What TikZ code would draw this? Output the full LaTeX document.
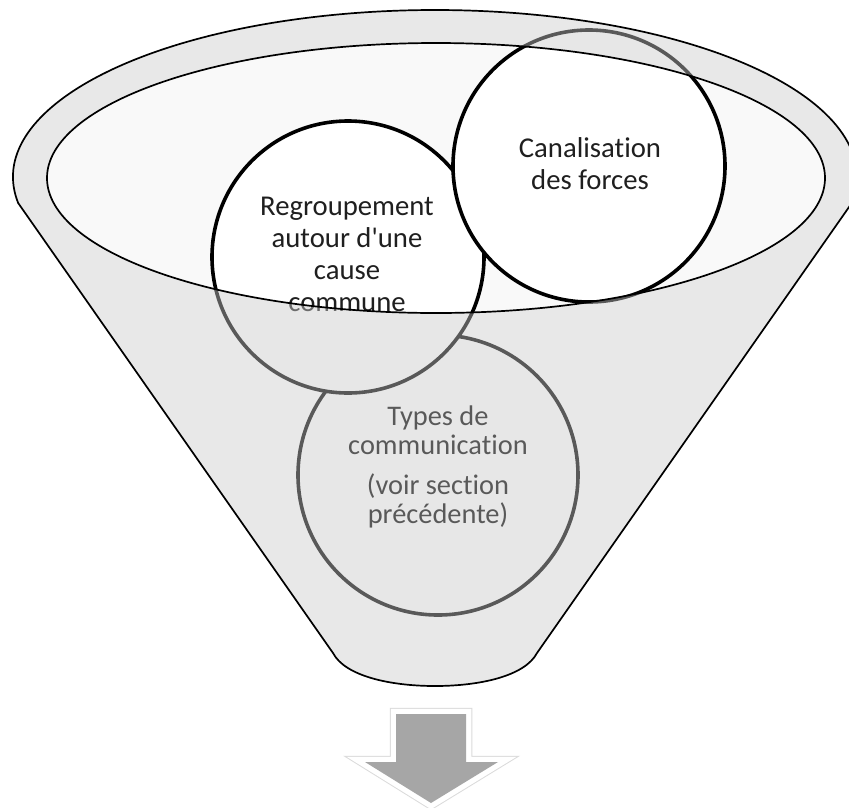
\documentclass[tikz,border=0pt]{standalone}
\usepackage{fontspec}
\newfontfamily\carl{Carlito}[Ligatures=NoCommon]
\definecolor{rimgray}{HTML}{CBCBCB}
\definecolor{mouthfill}{HTML}{F9F9F9}
\definecolor{arrowgray}{HTML}{A6A6A6}
\begin{document}
\begin{tikzpicture}[x=1pt,y=-1pt,
  bubble/.style={circle, draw=black, line width=3.6pt, fill=white, inner sep=0pt},
  bubbletext/.style={align=center, inner sep=0pt, text=black!88,
    font=\carl\fontsize{28.7}{32}\selectfont},
  funnelline/.style={draw=black, line width=1.7pt},
  bigarrow/.style={line join=miter}
]
\useasboundingbox (0,0) rectangle (849,807);
\clip (0,0) rectangle (849,807);

% light mouth of the funnel
\fill[mouthfill] (436,178) ellipse[x radius=389, y radius=135];

% the three bubbles, back to front
\node[bubble, minimum size=280pt] (types) at (438,475) {};
\node[bubbletext, text=black, font=\carl\fontsize{28.4}{29}\selectfont] (typestext) at (438,467)
  {Types de\\communication\\[11pt](voir section\\précédente)};
\node[bubble, minimum size=272pt] (regroup) at (348,257) {};
\node[bubbletext] (regrouptext) at (347,254)
  {Regroupement\\autour d\textquotesingle une\\cause\\commune};
\node[bubble, minimum size=272pt] (canal) at (589,166) {};
\node[bubbletext] (canaltext) at (590,164) {Canalisation\\des forces};

% translucent funnel body over the bubbles, open at the mouth
\fill[rimgray, fill opacity=0.443, even odd rule]
  (435,177) ++(171.04:422 and 167)
  arc[start angle=171.04, end angle=368.96, x radius=422, y radius=167]
  -- (537,653) .. controls (525,676) and (480,686) .. (435,686)
  .. controls (390,686) and (345,676) .. (333,653) -- cycle
  (436,178) ellipse[x radius=389, y radius=135];

% funnel outlines
\draw[funnelline]
  (435,177) ++(171.04:422 and 167)
  arc[start angle=171.04, end angle=368.96, x radius=422, y radius=167]
  -- (537,653) .. controls (525,676) and (480,686) .. (435,686)
  .. controls (390,686) and (345,676) .. (333,653) -- cycle;
\draw[funnelline] (436,178) ellipse[x radius=389, y radius=135];

% output arrow below the funnel
\def\arrowpath{(396,714) -- (466,714) -- (466,762) -- (498,762) -- (431,803)
  -- (365,762) -- (396,762) -- cycle}
\draw[bigarrow, draw=black!14, line width=12.5pt] \arrowpath;
\draw[bigarrow, draw=white, line width=10.5pt] \arrowpath;
\fill[arrowgray] \arrowpath;
\end{tikzpicture}
\end{document}
